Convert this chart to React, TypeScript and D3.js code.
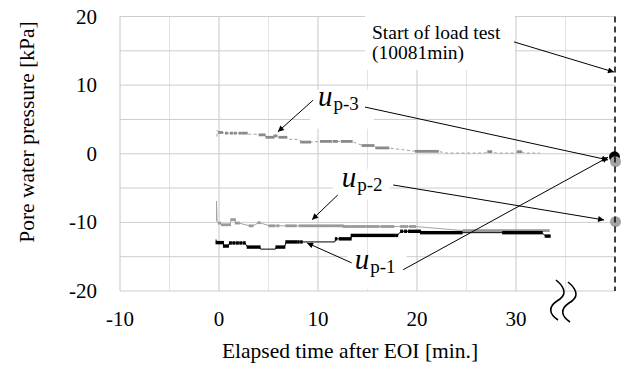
import React from "react";
import * as d3 from "d3";

const W = 623;
const H = 365;
const plot = { left: 120, right: 615, top: 16.5, bottom: 291 };

const xDomain: [number, number] = [-10, 40];
const yDomain: [number, number] = [-20, 20];
const xTicks = [-10, 0, 10, 20, 30];
const xMinorGrid = [-5, 5, 15, 25, 35];
const yTicks = [20, 10, 0, -10, -20];
const yGrid = [20, 15, 10, 5, 0, -5, -10, -15, -20];
const loadTestAxisTime = 40; // broken axis: 10081 min drawn at this position

// Logger records per piezometer: [start, end, value, dense]
// dense = 1 where readings pile up into a solid band, 0 where only the trace passes.
const up3Runs: [number, number, number, number][] = [
  [-0.2, -0.2, 2.5, 0], [-0.2, -0.2, 3.4, 0], [0.0, 0.3, 3.1, 1], [0.7, 0.8, 3.0, 1],
  [1.2, 1.3, 3.0, 1], [1.6, 1.7, 3.0, 1], [2.1, 2.2, 3.0, 1], [2.4, 2.8, 3.0, 1],
  [3.0, 3.9, 2.85, 0], [4.1, 4.6, 2.75, 1], [4.8, 5.5, 2.4, 1], [5.6, 5.8, 2.6, 1],
  [6.1, 6.8, 2.4, 1], [7.0, 8.1, 2.1, 0], [8.3, 9.2, 1.7, 1], [10.3, 10.6, 1.8, 1],
  [10.8, 11.3, 1.8, 1], [11.6, 11.9, 1.8, 1], [12.4, 13.4, 1.8, 1], [14.5, 15.6, 1.2, 1],
  [15.9, 17.1, 0.85, 1], [18.5, 18.5, 0.6, 0], [19.9, 22.1, 0.35, 1], [23.0, 23.0, 0.1, 0],
  [26.8, 26.8, 0.1, 0], [27.2, 27.5, 0.3, 1], [28.0, 28.0, 0.1, 0], [29.8, 29.8, 0.1, 0],
  [30.2, 30.5, 0.3, 1], [31.0, 31.0, 0.1, 0], [32.4, 32.4, 0.1, 0],
];

const up2Runs: [number, number, number, number][] = [
  [-0.25, -0.25, -9.8, 0], [-0.25, -0.25, -6.9, 0], [-0.2, -0.2, -9.9, 0], [0.0, 0.1, -10.1, 1],
  [0.3, 1.1, -10.35, 1], [1.25, 1.6, -9.6, 1], [1.7, 2.0, -10.1, 1], [3.1, 3.4, -10.5, 1],
  [4.0, 4.1, -10.05, 1], [5.1, 5.6, -10.5, 1], [5.9, 6.0, -10.5, 1], [6.8, 7.75, -10.5, 1],
  [8.15, 9.1, -10.5, 1], [9.3, 10.5, -10.5, 1], [10.7, 11.4, -10.5, 1], [11.6, 12.5, -10.5, 1],
  [12.6, 13.2, -10.6, 1], [13.4, 14.7, -10.6, 1], [14.9, 16.1, -10.6, 1], [16.4, 17.6, -10.6, 1],
  [18.4, 19.0, -10.6, 1], [19.3, 19.8, -10.6, 1], [24.7, 33.3, -11.2, 1],
];

const up1Runs: [number, number, number, number][] = [
  [-0.3, -0.3, -12.5, 0], [-0.25, 0.4, -12.95, 1], [0.5, 0.9, -13.45, 1], [1.1, 1.2, -13.0, 1],
  [1.45, 1.55, -13.0, 1], [1.8, 1.9, -13.0, 1], [2.15, 2.25, -13.0, 1], [2.5, 2.6, -13.0, 1],
  [2.9, 4.1, -13.6, 1], [4.2, 5.7, -13.9, 0], [5.8, 6.6, -13.6, 1], [6.8, 7.8, -12.85, 1],
  [8.0, 8.05, -12.85, 1], [8.3, 8.35, -12.85, 1], [11.7, 11.7, -12.85, 0], [11.8, 11.85, -12.4, 1],
  [12.2, 13.3, -12.4, 1], [13.4, 17.7, -11.9, 1], [17.9, 18.0, -11.9, 1], [18.4, 18.5, -11.3, 1],
  [18.8, 18.9, -11.3, 1], [19.2, 20.3, -11.3, 1], [20.4, 24.5, -11.5, 1], [28.7, 32.6, -11.5, 1],
  [33.0, 33.4, -12.0, 1],
];

// Pore water pressure when the load test started (10081 min)
const loadTestLabels = ["up-1", "up-3", "up-2"];
const loadTestValues = [-0.45, -1.15, -9.9];

const xScale = d3.scaleLinear().domain(xDomain).range([plot.left, plot.right]);
const yScale = d3.scaleLinear().domain(yDomain).range([plot.bottom, plot.top]);

const serifStyle = { fontFamily: "'Liberation Serif', 'Times New Roman', 'DejaVu Serif', serif" };

type Series = {
  runs: [number, number, number, number][];
  color: string;
  lineColor: string;
  dash?: string;
  bandHeight: number;
};

const series: Series[] = [
  { runs: up3Runs, color: "#8a8a8a", lineColor: "#a0a0a0", dash: "3,2.5", bandHeight: 2.8 },
  { runs: up2Runs, color: "#9a9a9a", lineColor: "#a5a5a5", bandHeight: 2.8 },
  { runs: up1Runs, color: "#000000", lineColor: "#000000", bandHeight: 3.4 },
];

const line = d3
  .line<[number, number]>()
  .x((d) => xScale(d[0]))
  .y((d) => yScale(d[1]));

function tracePoints(runs: [number, number, number, number][]): [number, number][] {
  const pts: [number, number][] = [];
  runs.forEach(([a, b, v]) => {
    pts.push([a, v]);
    if (b !== a) pts.push([b, v]);
  });
  return pts;
}

// Annotation arrows, in data coordinates: [fromT, fromV, toT, toV]
const arrows: [number, number, number, number][] = [
  [29.8, 16.3, 39.9, 11.9],
  [9.5, 7.8, 5.95, 3.2],
  [14.75, 6.8, 39.3, -0.9],
  [12.0, -6.0, 9.4, -9.6],
  [17.6, -4.55, 38.9, -9.65],
  [13.4, -15.9, 8.9, -13.0],
  [18.6, -16.9, 39.3, -0.5],
];

// Piezometer labels: subscript, anchor t, anchor v
const labelNames = ["p-3", "p-2", "p-1"];
const labelT = [10.0, 12.4, 13.7];
const labelV = [7.0, -4.8, -16.8];

function Squiggle({ x, y }: { x: number; y: number }) {
  const d = `M ${x} ${y} C ${x + 11} ${y + 9}, ${x + 10} ${y + 16}, ${x + 1} ${y + 21} C ${x - 8} ${y + 27}, ${x - 7} ${y + 34}, ${x + 2} ${y + 40}`;
  return <path d={d} fill="none" stroke="#000" strokeWidth={1.6} />;
}

export default function App() {
  const x40 = xScale(loadTestAxisTime);
  return (
    <svg
      width={W}
      height={H}
      viewBox={`0 0 ${W} ${H}`}
      style={{ position: "absolute", left: 0, top: 0, background: "#fff" }}
    >
      <defs>
        <marker
          id="head"
          markerUnits="userSpaceOnUse"
          viewBox="0 0 10 10"
          refX="10"
          refY="5"
          markerWidth="8"
          markerHeight="6"
          orient="auto"
        >
          <path d="M0,0 L10,5 L0,10 z" fill="#000" />
        </marker>
      </defs>
      <rect x={0} y={0} width={W} height={H} fill="#fff" />

      {/* grid */}
      {xMinorGrid.map((t) => (
        <line key={"xm" + t} x1={xScale(t)} x2={xScale(t)} y1={plot.top} y2={plot.bottom} stroke="#e3e3e3" strokeWidth={1} />
      ))}
      {xTicks.map((t) => (
        <line key={"xg" + t} x1={xScale(t)} x2={xScale(t)} y1={plot.top} y2={plot.bottom} stroke="#c6c6c6" strokeWidth={1} />
      ))}
      {yGrid.map((v) => (
        <line key={"yg" + v} x1={plot.left} x2={plot.right} y1={yScale(v)} y2={yScale(v)} stroke="#cdcdcd" strokeWidth={1} />
      ))}

      {/* text backgrounds */}
      <rect x={365} y={0} width={150} height={70} fill="#fff" />
      <rect x={xScale(labelT[0]) - 8} y={yScale(labelV[0]) - 16} width={64} height={39} fill="#fff" />
      <rect x={xScale(labelT[1]) - 9} y={yScale(labelV[1]) - 18} width={57} height={31} fill="#fff" />
      <rect x={xScale(labelT[2]) - 7} y={yScale(labelV[2]) - 14} width={59} height={34} fill="#fff" />

      {/* series */}
      {series.map((s, i) => (
        <g key={"s" + i}>
          <path
            d={line(tracePoints(s.runs)) || ""}
            fill="none"
            stroke={s.lineColor}
            strokeWidth={1}
            strokeDasharray={s.dash}
          />
          {s.runs
            .filter((r) => r[3] === 1)
            .map(([a, b, v], j) => {
              const x0 = xScale(a) - 1;
              const w = Math.max(xScale(b) - xScale(a) + 2, 2.5);
              return (
                <rect key={j} x={x0} y={yScale(v) - s.bandHeight / 2} width={w} height={s.bandHeight} fill={s.color} />
              );
            })}
        </g>
      ))}

      {/* readings at start of load test */}
      {loadTestValues.map((v, i) => (
        <circle
          key={loadTestLabels[i]}
          cx={x40 + (i === 0 ? -0.5 : 0.5)}
          cy={yScale(v)}
          r={5.5}
          fill={i === 0 ? "#000" : "#a3a3a3"}
        />
      ))}

      {/* load test start line */}
      <line x1={x40} x2={x40} y1={plot.top} y2={plot.bottom} stroke="#000" strokeWidth={1.5} strokeDasharray="6,4" />

      {/* arrows */}
      {arrows.map(([t0, v0, t1, v1], i) => (
        <line
          key={"a" + i}
          x1={xScale(t0)}
          y1={yScale(v0)}
          x2={xScale(t1)}
          y2={yScale(v1)}
          stroke="#000"
          strokeWidth={1}
          markerEnd="url(#head)"
        />
      ))}

      <g style={serifStyle} fill="#000">
        {/* annotation texts */}
        <text x={372} y={39} fontSize={19.5}>
          Start of load test
        </text>
        <text x={372} y={59} fontSize={19.5}>
          (10081min)
        </text>
        {labelNames.map((n, i) => (
          <text key={n} x={xScale(labelT[i])} y={yScale(labelV[i])}>
            <tspan fontStyle="italic" fontSize={29}>u</tspan>
            <tspan fontSize={19} dx={1} dy={4}>{n}</tspan>
          </text>
        ))}

        {/* axes labels */}
        {yTicks.map((v) => (
          <text key={"yt" + v} x={97} y={yScale(v) + 7} textAnchor="end" fontSize={21}>
            {v}
          </text>
        ))}
        {xTicks.map((t) => (
          <text key={"xt" + t} x={xScale(t)} y={326} textAnchor="middle" fontSize={21}>
            {t}
          </text>
        ))}
        <text x={350} y={358} textAnchor="middle" fontSize={21.5}>
          Elapsed time after EOI [min.]
        </text>
        <text transform="translate(34, 132) rotate(-90)" textAnchor="middle" fontSize={21.5}>
          Pore water pressure [kPa]
        </text>
      </g>

      <Squiggle x={556} y={280} />
      <Squiggle x={568} y={282} />
    </svg>
  );
}
